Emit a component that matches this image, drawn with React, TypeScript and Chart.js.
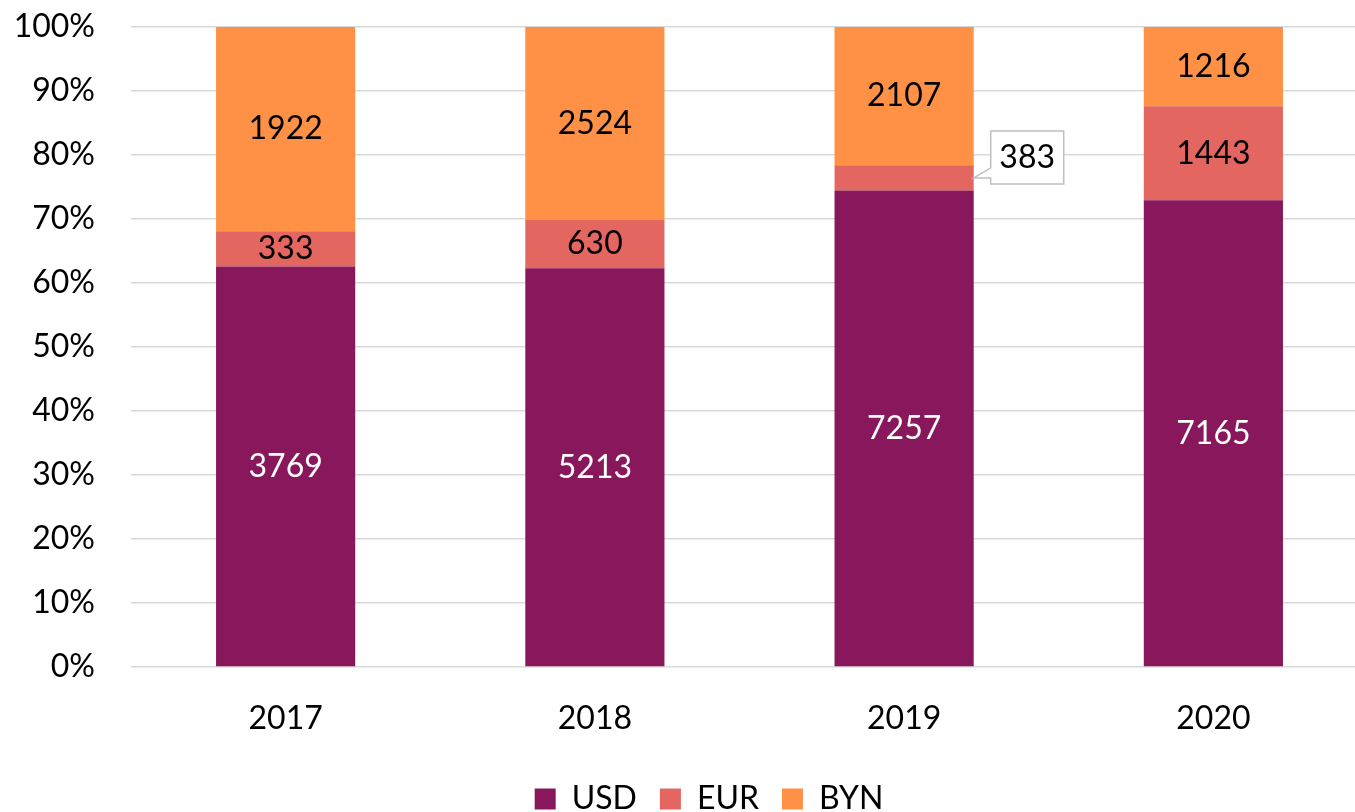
import { useEffect, useRef } from "react";
import { Chart, registerables } from "chart.js";
Chart.register(...registerables);

const categories = ["2017", "2018", "2019", "2020"];
const usd = [3769, 5213, 7257, 7165];
const eur = [333, 630, 383, 1443];
const byn = [1922, 2524, 2107, 1216];
const seriesNames = ["USD", "EUR", "BYN"];
const colors = ["#88175B", "#E36660", "#FF9147"];
const labelColors = ["#FFFFFF", "#000000", "#000000"];
const calloutSeries = 1;
const calloutIndex = 2;

const FONT = "Lato";
const FS = 32;

export default function App() {
  const ref = useRef<HTMLCanvasElement>(null);
  useEffect(() => {
    document.body.style.margin = "0";
    document.body.style.overflow = "hidden";
    const raw = [usd, eur, byn];
    const totals = categories.map((_, i) => usd[i] + eur[i] + byn[i]);
    const datasets = raw.map((vals, s) => ({
      label: seriesNames[s],
      data: vals.map((v, i) => (v / totals[i]) * 100),
      backgroundColor: colors[s],
      borderWidth: 0,
      categoryPercentage: 1,
      barPercentage: 0.45,
    }));

    const labelPlugin = {
      id: "valueLabels",
      afterDatasetsDraw(chart: any) {
        const ctx = chart.ctx;
        ctx.save();
        ctx.font = `${FS}px ${FONT}`;
        ctx.textAlign = "center";
        ctx.textBaseline = "middle";
        chart.data.datasets.forEach((_: any, s: number) => {
          const meta = chart.getDatasetMeta(s);
          meta.data.forEach((bar: any, i: number) => {
            const { x, y, base, width } = bar.getProps(["x", "y", "base", "width"], true);
            const cy = (y + base) / 2;
            const text = String(raw[s][i]);
            if (s === calloutSeries && i === calloutIndex) {
              const tipX = x + width / 2;
              const tipY = cy;
              const bx = tipX + 17;
              const bw = 73;
              const bt = tipY - 47;
              const bb = tipY + 6;
              ctx.beginPath();
              ctx.moveTo(bx, bt);
              ctx.lineTo(bx + bw, bt);
              ctx.lineTo(bx + bw, bb);
              ctx.lineTo(bx, bb);
              ctx.lineTo(bx, tipY);
              ctx.lineTo(tipX, tipY);
              ctx.lineTo(bx, tipY - 10);
              ctx.closePath();
              ctx.fillStyle = "#FFFFFF";
              ctx.fill();
              ctx.strokeStyle = "#BFBFBF";
              ctx.lineWidth = 1.5;
              ctx.stroke();
              ctx.fillStyle = "#000000";
              ctx.fillText(text, bx + bw / 2, (bt + bb) / 2);
            } else {
              ctx.fillStyle = labelColors[s];
              ctx.fillText(text, x, cy);
            }
          });
        });
        ctx.restore();
      },
    };

    const legendShift = {
      id: "legendShift",
      afterLayout(chart: any) {
        if (chart.legend) {
          chart.legend.left += 25;
          chart.legend.right += 25;
          chart.legend.top += 13;
          chart.legend.bottom += 13;
        }
      },
    };

    const chart = new Chart(ref.current!, {
      type: "bar",
      data: { labels: categories, datasets },
      plugins: [labelPlugin, legendShift],
      options: {
        animation: false,
        responsive: false,
        maintainAspectRatio: false,
        layout: { padding: { top: 0, right: 0, bottom: 0, left: 0 } },
        plugins: {
          tooltip: { enabled: false },
          legend: {
            position: "bottom",
            labels: {
              boxWidth: 21,
              boxHeight: 21,
              padding: 23,
              color: "#000000",
              font: { family: FONT, size: FS },
            },
          },
        },
        scales: {
          x: {
            stacked: true,
            grid: { display: false, drawTicks: false },
            border: { display: false },
            ticks: { color: "#000000", font: { family: FONT, size: FS }, padding: 32 },
            afterFit(scale: any) {
              scale.height = 80;
            },
          },
          y: {
            stacked: true,
            min: 0,
            max: 100,
            grid: { color: "#D9D9D9", lineWidth: 1.5, drawTicks: false },
            border: { display: false },
            ticks: {
              stepSize: 10,
              color: "#000000",
              font: { family: FONT, size: FS },
              padding: 36,
              callback: (v: any) => `${v}%`,
            },
            afterFit(scale: any) {
              scale.width = 131;
              scale.paddingTop = 27;
              scale.paddingBottom = 19;
            },
          },
        },
      },
    });
    return () => chart.destroy();
  }, []);
  return <canvas ref={ref} width={1368} height={812} style={{ display: "block" }} />;
}
